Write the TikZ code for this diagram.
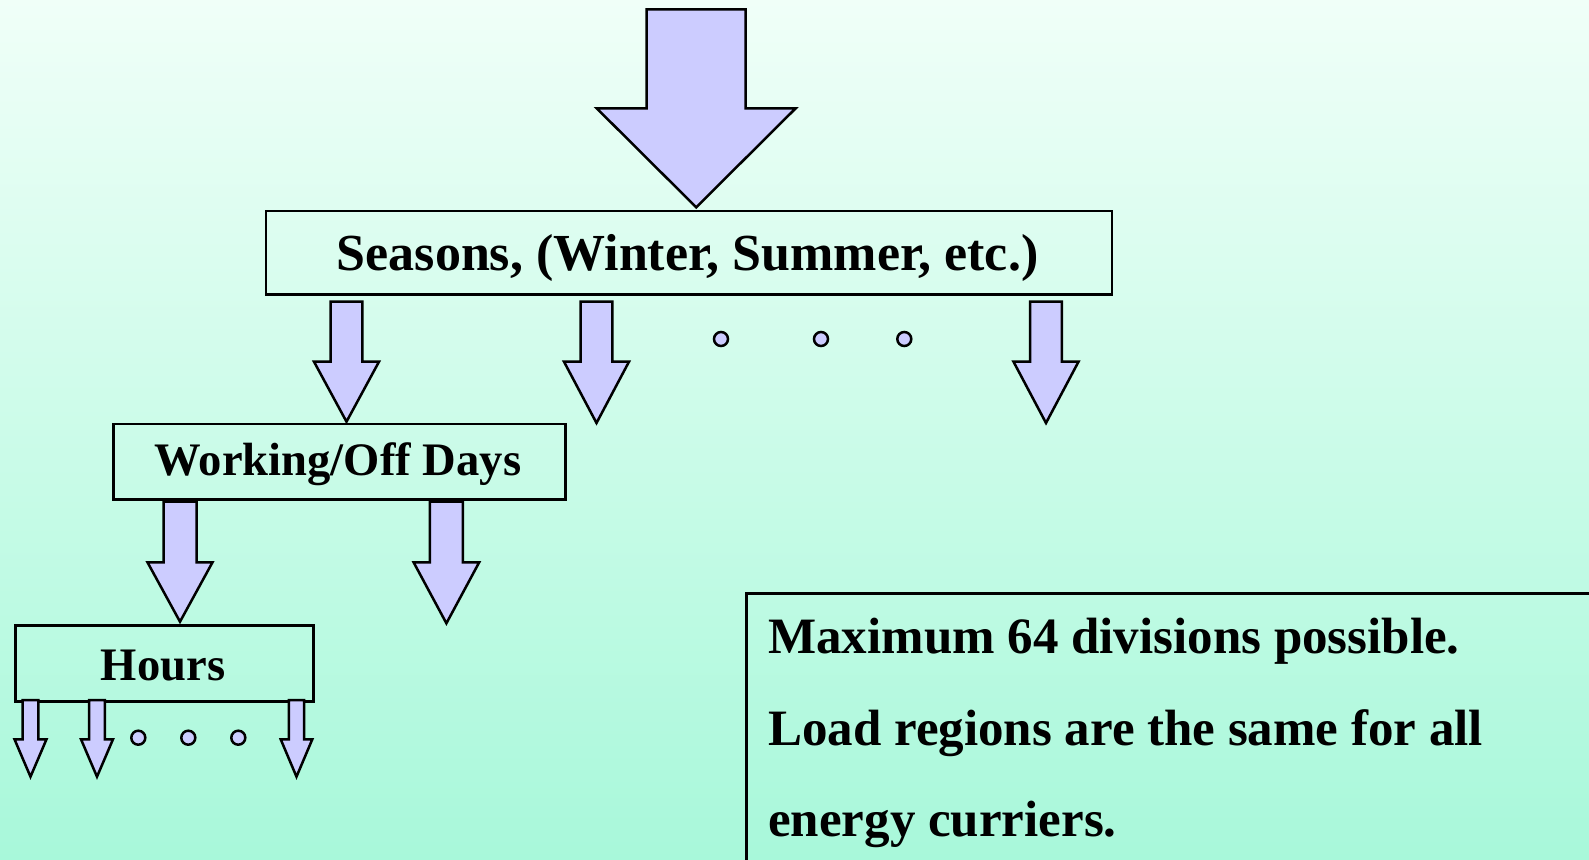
\documentclass[tikz,border=0pt]{standalone}
\usepackage{fontspec}
\setmainfont{Liberation Serif}
\begin{document}
\begin{tikzpicture}[x=1pt,y=-1pt,
  boxline/.style={draw=black,line width=2.7pt},
  blockarrow/.style={draw=black,fill=arrowfill,line width=2.5pt,line join=miter},
  dotstyle/.style={draw=black,fill=arrowfill,line width=2.5pt},
  bigtext/.style={font=\fontsize{52}{60}\selectfont\bfseries,inner sep=0pt,anchor=base},
  midtext/.style={font=\fontsize{46.6}{55}\selectfont\bfseries,inner sep=0pt,anchor=base},
  notetext/.style={font=\fontsize{51}{60}\selectfont\bfseries,inner sep=0pt,anchor=base west}]
\definecolor{arrowfill}{RGB}{204,204,255}
\definecolor{bgtop}{RGB}{240,255,248}
\definecolor{bgbot}{RGB}{168,248,218}
\newcommand\blockarr[6]{% cx, top, shaft half, head half, shoulder, tip
  \filldraw[blockarrow] ({#1-#3},#2) -- ({#1+#3},#2) -- ({#1+#3},#5) -- ({#1+#4},#5)
    -- (#1,#6) -- ({#1-#4},#5) -- ({#1-#3},#5) -- cycle;}
\useasboundingbox (0,0) rectangle (1589,859);
\clip (0,0) rectangle (1589,859);
\shade[top color=bgtop,bottom color=bgbot] (0,0) rectangle (1589,859);
% boxes
\node[boxline,minimum width=846.2pt,minimum height=83.4pt,inner sep=0pt,anchor=north west] (seasons) at (264.5,209.5) {};
\node[bigtext] (seasonsT) at (687.6,270) {Seasons, (Winter, Summer, etc.)};
\node[boxline,minimum width=452pt,minimum height=75.6pt,inner sep=0pt,anchor=north west] (work) at (112.3,422.7) {};
\node[midtext] (workT) at (338,475) {Working/Off Days};
\node[boxline,minimum width=298pt,minimum height=75.7pt,inner sep=0pt,anchor=north west] (hours) at (14.3,624.3) {};
\node[midtext] (hoursT) at (163,680) {Hours};
% note box (open to the right and bottom)
\coordinate (noteTL) at (746.5,593.3);
\coordinate (noteTR) at (1600,593.3);
\coordinate (noteBL) at (746.5,880);
\draw[boxline] (noteTR) -- (noteTL) -- (noteBL);
\node[notetext] (n1) at (768,653.3) {Maximum 64 divisions possible.};
\node[notetext] (n2) at (768,745.7) {Load regions are the same for all};
\node[notetext] (n3) at (768,836.7) {energy curriers.};
% arrows
\blockarr{696.2}{9.3}{49.5}{99.5}{108.3}{207.3}
\blockarr{346.5}{301.5}{15.8}{32.5}{361.7}{421.7}
\blockarr{596.5}{301.5}{15.8}{32.5}{361.7}{423}
\blockarr{1046}{301.5}{15.8}{32.5}{361.7}{423}
\blockarr{180}{501.7}{16.5}{32.5}{562.3}{621.7}
\blockarr{446.4}{501.7}{16.5}{32.8}{562.3}{623.3}
\blockarr{30.5}{700}{7.8}{16}{739.3}{776.7}
\blockarr{97}{700}{7.8}{16}{739.3}{776.7}
\blockarr{296.5}{700}{7.6}{15.8}{739.3}{776.7}
% dots
\foreach \dx/\nm in {721/da,821/db,904.3/dc}{\node[dotstyle,circle,minimum size=14pt,inner sep=0pt] (\nm) at (\dx,339) {};}
\foreach \dx/\nm in {138.3/ea,188.3/eb,238.3/ec}{\node[dotstyle,circle,minimum size=14pt,inner sep=0pt] (\nm) at (\dx,737.7) {};}
\end{tikzpicture}
\end{document}
